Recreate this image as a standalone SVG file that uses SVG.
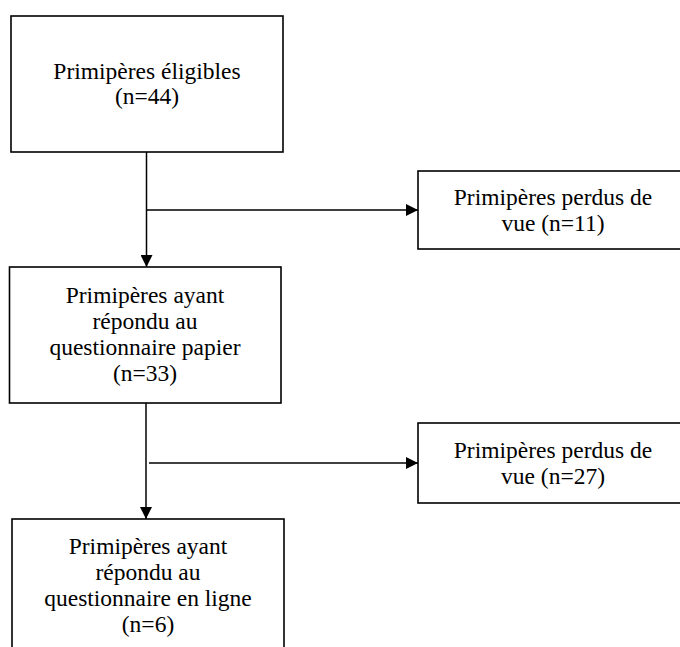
<svg xmlns="http://www.w3.org/2000/svg" width="680" height="647" viewBox="0 0 680 647">
<style>
.box{fill:#fff;stroke:#000;stroke-width:1.6}
.t{font-family:"Liberation Serif","Times New Roman",serif;font-size:23.5px;fill:#000;text-anchor:middle}
.c{stroke:#000;stroke-width:1.5;fill:none}
</style>
<defs>
<marker id="ah" markerWidth="12" markerHeight="12" refX="12" refY="6" orient="auto" markerUnits="userSpaceOnUse">
<path d="M0,0 L12,6 L0,12 Z" fill="#000"/>
</marker>
</defs>
<rect width="680" height="647" fill="#fff"/>
<g id="connectors">
<line class="c" x1="146.5" y1="152" x2="146.5" y2="267" marker-end="url(#ah)"/>
<line class="c" x1="146.5" y1="210" x2="418" y2="210" marker-end="url(#ah)"/>
<line class="c" x1="146" y1="403" x2="146" y2="519" marker-end="url(#ah)"/>
<line class="c" x1="149" y1="463" x2="418" y2="463" marker-end="url(#ah)"/>
</g>
<g id="n1">
<rect class="box" x="11" y="16" width="272" height="136"/>
<text class="t" x="147" y="79">Primipères éligibles</text>
<text class="t" x="147" y="104">(n=44)</text>
</g>
<g id="n2">
<rect class="box" x="418" y="171" width="270" height="78"/>
<text class="t" x="553" y="205">Primipères perdus de</text>
<text class="t" x="553" y="231">vue (n=11)</text>
</g>
<g id="n3">
<rect class="box" x="9.5" y="267" width="271.5" height="136"/>
<text class="t" x="145" y="303">Primipères ayant</text>
<text class="t" x="145" y="329">répondu au</text>
<text class="t" x="145" y="355">questionnaire papier</text>
<text class="t" x="145" y="381">(n=33)</text>
</g>
<g id="n4">
<rect class="box" x="418" y="423" width="270" height="80"/>
<text class="t" x="553" y="458">Primipères perdus de</text>
<text class="t" x="553" y="484">vue (n=27)</text>
</g>
<g id="n5">
<rect class="box" x="12" y="519" width="272" height="140"/>
<text class="t" x="148" y="554">Primipères ayant</text>
<text class="t" x="148" y="580">répondu au</text>
<text class="t" x="148" y="606">questionnaire en ligne</text>
<text class="t" x="148" y="632">(n=6)</text>
</g>
</svg>
